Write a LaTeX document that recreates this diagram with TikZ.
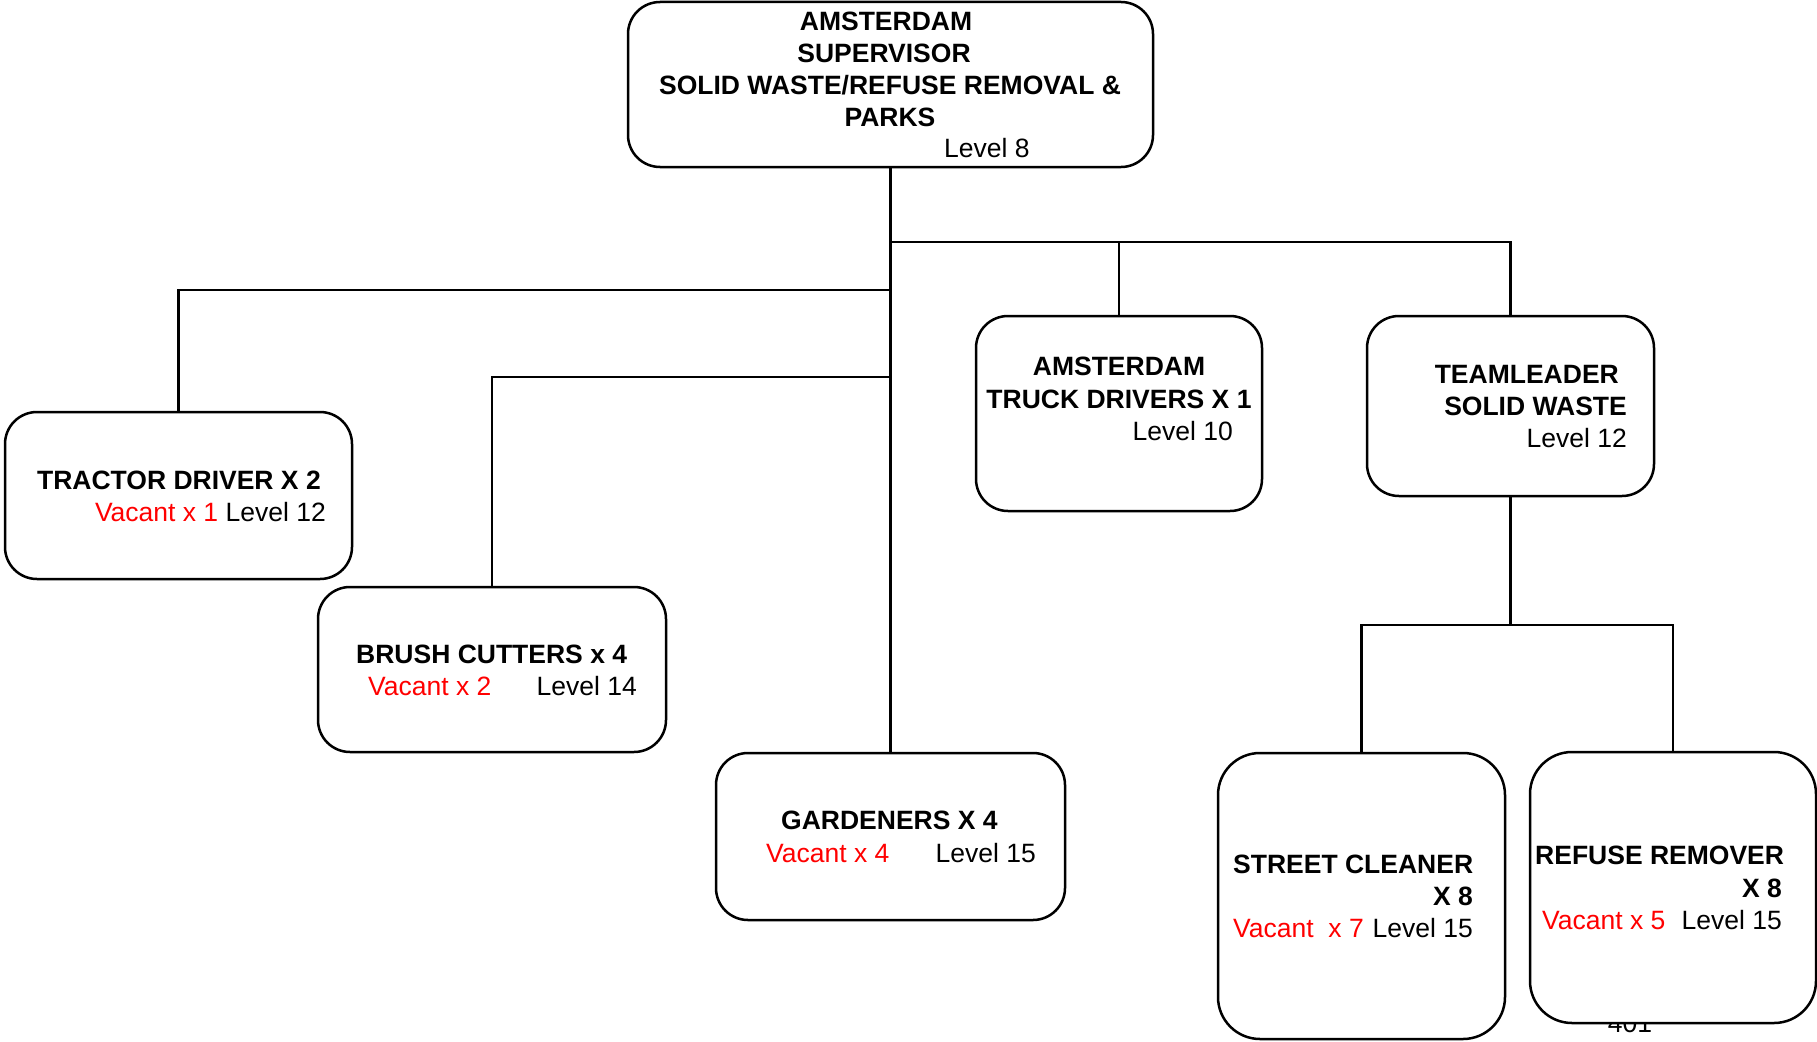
\documentclass[tikz,border=0pt]{standalone}
\usepackage{fontspec}
\setmainfont{Liberation Sans}
\begin{document}
\begin{tikzpicture}[x=1pt,y=-1pt,
  box/.style={draw, line width=2.5pt, rounded corners=32pt, fill=white, inner sep=0pt, outer sep=0pt},
  tallbox/.style={box, rounded corners=42pt},
  wire/.style={line width=2.5pt},
  hd/.style={font=\fontsize{26.5}{32}\selectfont\bfseries, inner sep=0pt},
  tx/.style={font=\fontsize{26.5}{32}\selectfont, inner sep=0pt},
  vac/.style={tx, text=red}]
\fill[white] (0,0) rectangle (1817,1041);
\useasboundingbox (0,0) rectangle (1817,1041);

% page number, partly hidden behind the last box
\node[tx, anchor=base] (pagenum) at (1630,1032) {401};

% boxes
\node[box, minimum width=525pt, minimum height=165pt] (sup) at (890.5,84.5) {};
\node[box, minimum width=347pt, minimum height=167pt] (tractor) at (178.5,495.5) {};
\node[box, minimum width=348pt, minimum height=165pt] (brush) at (492,669.5) {};
\node[box, minimum width=349pt, minimum height=167pt] (gard) at (890.5,836.5) {};
\node[box, minimum width=286pt, minimum height=195pt] (truck) at (1119,413.5) {};
\node[box, minimum width=287pt, minimum height=180pt] (team) at (1510.5,406) {};
\node[tallbox, minimum width=287pt, minimum height=286pt] (street) at (1361.5,896) {};
\node[tallbox, minimum width=286pt, minimum height=271pt] (refuse) at (1673,887.5) {};

% supervisor
\node[hd, anchor=base] (s1) at (886,30.5) {AMSTERDAM};
\node[hd, anchor=base] (s2) at (884,62.5) {SUPERVISOR};
\node[hd, anchor=base] (s3) at (890,94.5) {SOLID WASTE/REFUSE REMOVAL \&};
\node[hd, anchor=base] (s4) at (890,126.5) {PARKS};
\node[tx, anchor=base west] (s5) at (944,157.5) {Level 8};

% tractor driver
\node[hd, anchor=base east] (t1) at (321,489.5) {TRACTOR DRIVER X 2};
\node[tx, anchor=base east] (t2) at (326,521.5) {\textcolor{red}{Vacant x 1} Level 12};

% brush cutters
\node[hd, anchor=base west] (b1) at (356,663.5) {BRUSH CUTTERS x 4};
\node[vac, anchor=base west] (b2) at (368,695.5) {Vacant x 2};
\node[tx, anchor=base east] (b3) at (637,695.5) {Level 14};

% gardeners
\node[hd, anchor=base west] (g1) at (781,829.5) {GARDENERS X 4};
\node[vac, anchor=base west] (g2) at (766,862.5) {Vacant x 4};
\node[tx, anchor=base east] (g3) at (1036,862.5) {Level 15};

% truck drivers
\node[hd, anchor=base] (k1) at (1119,375.5) {AMSTERDAM};
\node[hd, anchor=base] (k2) at (1119,408.5) {TRUCK DRIVERS X 1};
\node[tx, anchor=base east] (k3) at (1233,440.5) {Level 10};

% team leader
\node[hd, anchor=base east] (l1) at (1619,383.5) {TEAMLEADER};
\node[hd, anchor=base east] (l2) at (1627,415.5) {SOLID WASTE};
\node[tx, anchor=base east] (l3) at (1627,447.5) {Level 12};

% street cleaner
\node[hd, anchor=base west] (c1) at (1233,873.5) {STREET CLEANER};
\node[hd, anchor=base east] (c2) at (1473,905.5) {X 8};
\node[vac, anchor=base west] (c3) at (1233,937.5) {Vacant\ \ x 7};
\node[tx, anchor=base east] (c4) at (1473,937.5) {Level 15};

% refuse remover
\node[hd, anchor=base west] (r1) at (1535,864.5) {REFUSE REMOVER};
\node[hd, anchor=base east] (r2) at (1782,897.5) {X 8};
\node[vac, anchor=base west] (r3) at (1542,929.5) {Vacant x 5};
\node[tx, anchor=base east] (r4) at (1782,929.5) {Level 15};

% junctions
\coordinate (jR) at (890.5,242);
\coordinate (jL1) at (890.5,290);
\coordinate (jL2) at (890.5,377);
\coordinate (jT) at (1510.5,625);

% connectors
\draw[wire] (sup.south) -- (gard.north);
\draw[wire] (jR) -| (truck.north);
\draw[wire] (jR) -| (team.north);
\draw[wire] (jL1) -| (tractor.north);
\draw[wire] (jL2) -| (brush.north);
\draw[wire] (team.south) -- (jT);
\draw[wire] (jT) -| (street.north);
\draw[wire] (jT) -| (refuse.north);
\end{tikzpicture}
\end{document}
